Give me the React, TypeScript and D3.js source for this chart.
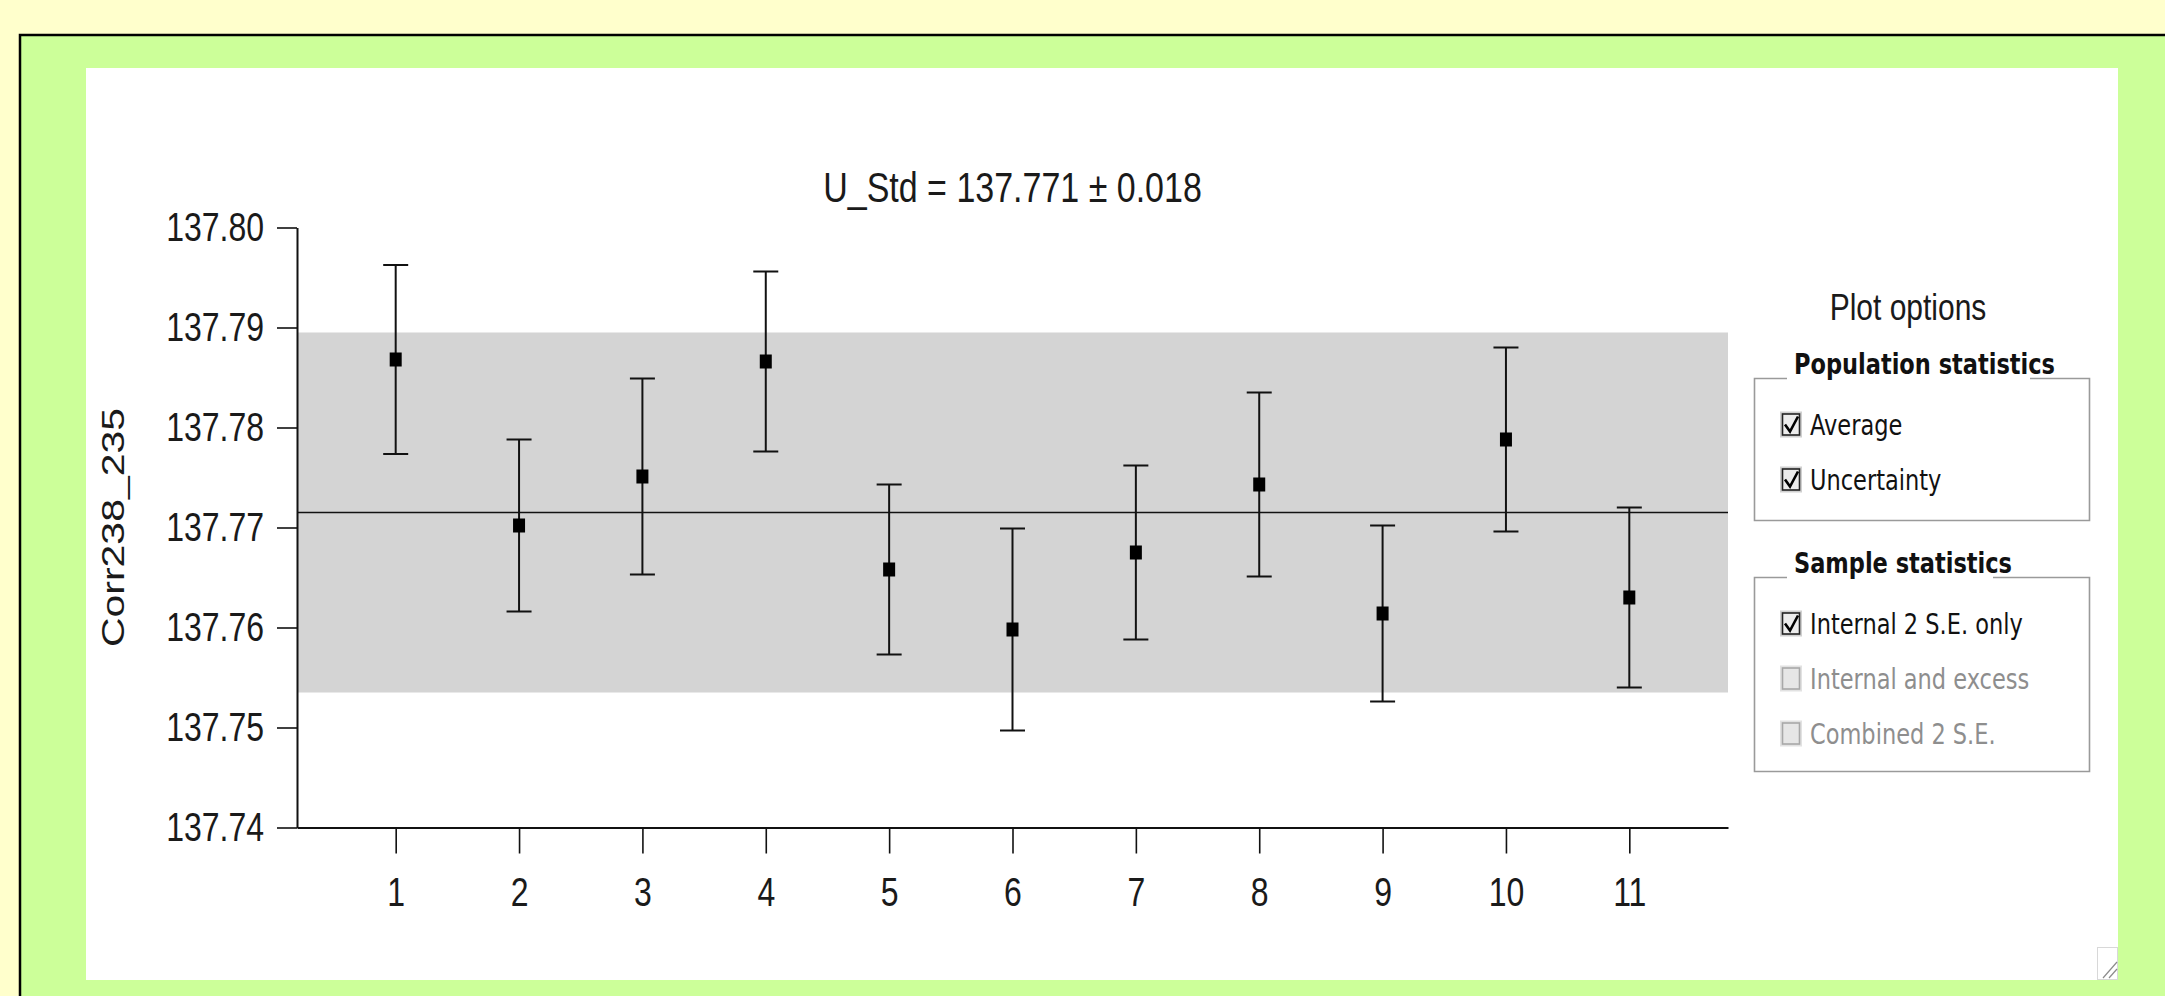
import React, { useEffect, useRef } from "react";
import * as d3 from "d3";

// sample numbers on the x axis
const samples = [1, 2, 3, 4, 5, 6, 7, 8, 9, 10, 11];
// Corr238_235 per sample
const values = [137.7868, 137.7702, 137.7751, 137.7866, 137.7658, 137.7598, 137.7675, 137.7743, 137.7614, 137.7788, 137.7630];
// internal 2 S.E. (half length of each error bar)
const errors = [0.00945, 0.0086, 0.0098, 0.009, 0.0085, 0.0101, 0.0087, 0.0092, 0.0088, 0.0092, 0.009];
const yTicks = [137.74, 137.75, 137.76, 137.77, 137.78, 137.79, 137.8];
const popMean = 137.7715;
const popUncertainty = 0.018;
const titleText = "U_Std = 137.771 ± 0.018";
const yLabel = "Corr238_235";

const popLabels = ["Average", "Uncertainty"];
const popChecked = [true, true];
const sampleLabels = ["Internal 2 S.E. only", "Internal and excess", "Combined 2 S.E."];
const sampleChecked = [true, false, false];

const W = 2165;
const H = 996;
const PLOT_FONT = "'Liberation Sans', Arial, sans-serif";
const UI_FONT = "'DejaVu Sans', sans-serif";
const SY = 1.28; // the screenshot text is stretched vertically

export default function App() {
  const ref = useRef<SVGSVGElement>(null);

  useEffect(() => {
    const svg = d3.select(ref.current);
    svg.selectAll("*").remove();

    // page background, frame, white panel
    svg.append("rect").attr("width", W).attr("height", H).attr("fill", "#ffffcc");
    svg.append("rect").attr("x", 20).attr("y", 35).attr("width", W).attr("height", H)
      .attr("fill", "#ccff99").attr("stroke", "#000").attr("stroke-width", 2.5);
    svg.append("rect").attr("x", 86).attr("y", 68).attr("width", 2118 - 86).attr("height", 980 - 68)
      .attr("fill", "#fff");

    // resize grip
    const grip = svg.append("g");
    grip.append("rect").attr("x", 2097.5).attr("y", 947.5).attr("width", 20).attr("height", 32)
      .attr("fill", "#fff").attr("stroke", "#d8d8d8");
    [[2103, 978, 2117, 962], [2109, 978, 2117, 969]].forEach(([x1, y1, x2, y2]) =>
      grip.append("line").attr("x1", x1).attr("y1", y1).attr("x2", x2).attr("y2", y2)
        .attr("stroke", "#8a8a8a").attr("stroke-width", 1.2));

    // scales
    const x = d3.scaleLinear().domain([0.2, 11.8]).range([297, 1728]);
    const y = d3.scaleLinear().domain([137.74, 137.8]).range([827.5, 227.5]);

    // population band and average line
    svg.append("rect")
      .attr("x", x(0.2)).attr("width", x(11.8) - x(0.2))
      .attr("y", y(popMean + popUncertainty))
      .attr("height", y(popMean - popUncertainty) - y(popMean + popUncertainty))
      .attr("fill", "#d4d4d4");
    svg.append("line")
      .attr("x1", x(0.2)).attr("x2", x(11.8))
      .attr("y1", y(popMean)).attr("y2", y(popMean))
      .attr("stroke", "#111").attr("stroke-width", 1.6);

    // axes
    const yAxis = svg.append("g").attr("transform", `translate(${x(0.2)},0)`)
      .call(d3.axisLeft(y).tickValues(yTicks).tickFormat(d3.format(".2f")).tickSize(20).tickPadding(13).tickSizeOuter(0));
    const xAxis = svg.append("g").attr("transform", `translate(0,${y(137.74)})`)
      .call(d3.axisBottom(x).tickValues(samples).tickFormat(d3.format("d")).tickSize(26).tickSizeOuter(0));

    [yAxis, xAxis].forEach((a) => {
      a.select(".domain").attr("stroke", "#111").attr("stroke-width", 2);
      a.selectAll(".tick line").attr("stroke", "#111").attr("stroke-width", 1.6);
      a.selectAll(".tick text")
        .attr("font-family", PLOT_FONT).attr("font-size", 32).attr("fill", "#1a1a1a");
    });
    yAxis.selectAll(".tick text").attr("transform", `scale(1,${SY})`);
    xAxis.selectAll(".tick text").attr("y", 38.7).attr("transform", `scale(1,${SY})`);

    // error bars and points
    const pts = svg.append("g");
    samples.forEach((s, i) => {
      const cx = x(s);
      const top = y(values[i] + errors[i]);
      const bot = y(values[i] - errors[i]);
      pts.append("line").attr("x1", cx).attr("x2", cx).attr("y1", top).attr("y2", bot)
        .attr("stroke", "#111").attr("stroke-width", 2);
      [top, bot].forEach((yy) =>
        pts.append("line").attr("x1", cx - 12.5).attr("x2", cx + 12.5).attr("y1", yy).attr("y2", yy)
          .attr("stroke", "#111").attr("stroke-width", 2));
      pts.append("rect").attr("x", cx - 6).attr("y", y(values[i]) - 7)
        .attr("width", 12).attr("height", 14).attr("fill", "#000");
    });

    // title and y label
    svg.append("text")
      .attr("transform", `translate(${(x(0.2) + x(11.8)) / 2},202) scale(1,1.25)`)
      .attr("text-anchor", "middle").attr("font-family", PLOT_FONT).attr("font-size", 34)
      .attr("fill", "#1a1a1a").text(titleText);
    svg.append("text")
      .attr("transform", `translate(124,${(y(137.74) + y(137.8)) / 2}) rotate(-90) scale(${SY},1)`)
      .attr("text-anchor", "middle").attr("font-family", PLOT_FONT).attr("font-size", 32)
      .attr("fill", "#1a1a1a").text(yLabel);

    // plot options panel
    svg.append("text")
      .attr("transform", "translate(1908,320) scale(1,1.2)")
      .attr("text-anchor", "middle").attr("font-family", PLOT_FONT).attr("font-size", 30)
      .attr("fill", "#1a1a1a").text("Plot options");

    const uiText = (g, tx, ty, str, opts: any = {}) =>
      g.append("text")
        .attr("transform", `translate(${tx},${ty}) scale(0.9,1.15)`)
        .attr("font-family", UI_FONT).attr("font-size", 25)
        .attr("font-weight", opts.bold ? "bold" : "normal")
        .attr("fill", opts.color || "#111").text(str);

    const checkbox = (g, bx, by, checked, enabled) => {
      g.append("rect").attr("x", bx).attr("y", by).attr("width", 22).attr("height", 26)
        .attr("fill", enabled ? "#d0d0d0" : "#e2e2e2");
      g.append("rect").attr("x", bx + 2.5).attr("y", by + 2.5).attr("width", 17).attr("height", 21)
        .attr("fill", enabled ? "#ececec" : "#e6e6e6")
        .attr("stroke", enabled ? "#222" : "#a8a8a8").attr("stroke-width", 1.6);
      if (checked)
        g.append("path")
          .attr("d", `M${bx + 5},${by + 13} L${bx + 10},${by + 20} L${bx + 18},${by + 5}`)
          .attr("fill", "none").attr("stroke", "#000").attr("stroke-width", 2.6);
    };

    const group = (top, bottom, gapEnd, title, labels, checked, enabledAll) => {
      const g = svg.append("g");
      const l = 1754.5, r = 2089.5;
      g.append("path")
        .attr("d", `M1787,${top} H${l} V${bottom} H${r} V${top} H${gapEnd}`)
        .attr("fill", "none").attr("stroke", "#9a9a9a").attr("stroke-width", 1.6);
      uiText(g, 1794, top - 5, title, { bold: true });
      labels.forEach((lab, i) => {
        const enabled = enabledAll || checked[i];
        const by = top + 33 + i * 55;
        checkbox(g, 1780, by, checked[i], enabled);
        uiText(g, 1810, by + 23, lab, { color: enabled ? "#111" : "#8e8e8e" });
      });
    };
    group(378.5, 520.5, 2030, "Population statistics", popLabels, popChecked, true);
    group(577.5, 771.5, 1993, "Sample statistics", sampleLabels, sampleChecked, false);
  }, []);

  return (
    <svg ref={ref} width={W} height={H}
      style={{ position: "absolute", left: 0, top: 0, display: "block" }} />
  );
}
